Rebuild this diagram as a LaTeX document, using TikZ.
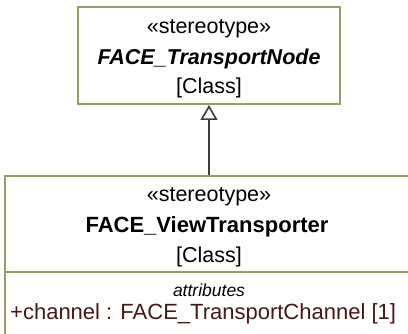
\documentclass[tikz,border=0pt]{standalone}
\usepackage{fontspec}
\setmainfont{Liberation Sans}
\usetikzlibrary{arrows.meta}
\definecolor{umlborder}{RGB}{155,155,100}
\definecolor{umlline}{RGB}{60,60,60}
\definecolor{attrtext}{RGB}{70,25,25}
\tikzset{
  classbox/.style={draw=umlborder, line width=2pt, fill=white, inner sep=0pt},
  lbl/.style={font=\fontsize{21.5}{24}\selectfont, inner sep=0pt, anchor=center},
  smalllbl/.style={font=\fontsize{17.5}{20}\selectfont\itshape, inner sep=0pt, anchor=center},
  generalization/.style={draw=umlline, line width=2pt, -{Triangle[open, length=15pt, width=17pt, fill=white, line width=1.6pt]}}
}
\begin{document}
\begin{tikzpicture}[x=1pt,y=-1pt]
\useasboundingbox (0,0) rectangle (408,334);
\clip (0,0) rectangle (408,334);
% top class
\node[classbox, minimum width=262pt, minimum height=97pt] (top) at (209,55.5) {};
\node[lbl] (topst) at (209,29) {«stereotype»};
\node[lbl, font=\fontsize{21.5}{24}\selectfont\bfseries\itshape] (topname) at (209,59) {FACE\_TransportNode};
\node[lbl] (topkind) at (209,88) {[Class]};
% bottom class
\node[classbox, minimum width=408pt, minimum height=170pt] (bot) at (209,261) {};
\node[lbl] (botst) at (209,197) {«stereotype»};
\node[lbl, font=\fontsize{22}{24}\selectfont\bfseries] (botname) at (207,227) {FACE\_ViewTransporter};
\node[lbl] (botkind) at (209,257) {[Class]};
\coordinate (divl) at (5,272);
\coordinate (divr) at (413,272);
\draw[draw=umlborder, line width=2pt] (divl) -- (divr);
\node[smalllbl] (attrs) at (209,290) {attributes};
\node[lbl, font=\fontsize{22}{24}\selectfont, text=attrtext, anchor=west] (attr1) at (10,314) {+channel : FACE\_TransportChannel [1]};
% generalization
\draw[generalization] (bot.north) -- (top.south);
\end{tikzpicture}
\end{document}
